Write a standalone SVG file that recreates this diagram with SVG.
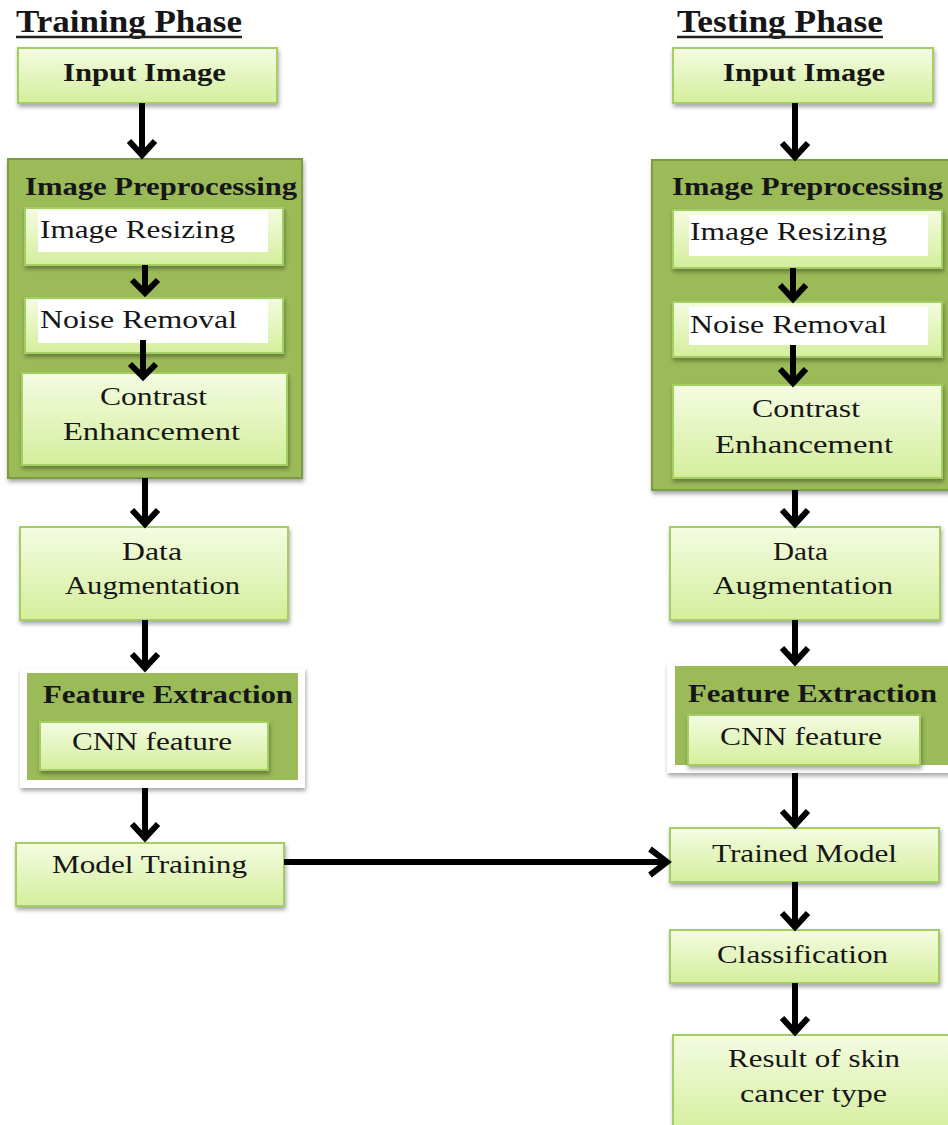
<svg xmlns="http://www.w3.org/2000/svg" width="948" height="1125" viewBox="0 0 948 1125">
<defs>
<linearGradient id="lg" x1="0" y1="0" x2="0" y2="1">
<stop offset="0" stop-color="#f4fce2"/>
<stop offset="1" stop-color="#d4ee9c"/>
</linearGradient>
<filter id="sh" x="-10%" y="-10%" width="120%" height="130%">
<feDropShadow dx="1" dy="3" stdDeviation="2" flood-color="#000" flood-opacity="0.35"/>
</filter>
<style>
.box{fill:url(#lg);stroke:#a3cf62;stroke-width:2;filter:url(#sh)}
.grp{fill:#9bbb59;stroke:#7d9b42;stroke-width:2;filter:url(#sh)}
.wbg{fill:#ffffff;filter:url(#sh)}
.win{fill:#ffffff}
.t{font-family:"Liberation Serif","Times New Roman",serif;font-size:26px;fill:#161616}
.b{font-weight:bold;font-size:26px}
.h{font-family:"Liberation Serif","Times New Roman",serif;font-weight:bold;font-size:31px;fill:#161616}
.ul{stroke:#222;stroke-width:2.5}
.sh{stroke:#000;stroke-width:6;fill:none}
.hd{stroke:#000;stroke-width:6;fill:none;stroke-linejoin:miter;stroke-linecap:butt}
</style>
</defs>

<g id="titles">
<text class="h" x="16" y="32" textLength="226" lengthAdjust="spacingAndGlyphs">Training Phase</text>
<line class="ul" x1="16" y1="37" x2="242" y2="37"/>
<text class="h" x="677" y="32" textLength="206" lengthAdjust="spacingAndGlyphs">Testing Phase</text>
<line class="ul" x1="677" y1="37" x2="883" y2="37"/>
</g>

<!-- Training phase -->
<g id="train-input">
<rect class="box" x="18" y="48" width="259" height="55"/>
<text class="t b" x="63" y="81" textLength="163" lengthAdjust="spacingAndGlyphs">Input Image</text>
</g>
<g id="train-preprocessing">
<rect class="grp" x="8" y="159" width="294" height="319"/>
<text class="t b" x="25" y="195" textLength="272" lengthAdjust="spacingAndGlyphs">Image Preprocessing</text>
</g>
<g id="train-resizing">
<rect class="box" x="25" y="208" width="258" height="57"/>
<rect class="win" x="38" y="211" width="230" height="41"/>
<text class="t" x="40" y="238" textLength="195" lengthAdjust="spacingAndGlyphs">Image Resizing</text>
</g>
<g id="train-noise">
<rect class="box" x="25" y="298" width="258" height="55"/>
<rect class="win" x="38" y="300" width="230" height="43"/>
<text class="t" x="40" y="328" textLength="197" lengthAdjust="spacingAndGlyphs">Noise Removal</text>
</g>
<g id="train-contrast">
<rect class="box" x="22" y="373" width="265" height="92"/>
<text class="t" x="100" y="405" textLength="107" lengthAdjust="spacingAndGlyphs">Contrast</text>
<text class="t" x="63" y="440" textLength="177" lengthAdjust="spacingAndGlyphs">Enhancement</text>
</g>
<g id="train-augmentation">
<rect class="box" x="20" y="527" width="268" height="93"/>
<text class="t" x="122" y="560" textLength="60" lengthAdjust="spacingAndGlyphs">Data</text>
<text class="t" x="65" y="594" textLength="175" lengthAdjust="spacingAndGlyphs">Augmentation</text>
</g>
<g id="train-feature">
<rect class="wbg" x="20" y="668" width="285" height="120"/>
<rect fill="#9bbb59" x="27" y="673" width="271" height="107"/>
<text class="t b" x="43" y="703" textLength="250" lengthAdjust="spacingAndGlyphs">Feature Extraction</text>
</g>
<g id="train-cnn">
<rect class="box" x="40" y="722" width="228" height="48"/>
<text class="t" x="72" y="750" textLength="160" lengthAdjust="spacingAndGlyphs">CNN feature</text>
</g>
<g id="train-model">
<rect class="box" x="16" y="843" width="268" height="63"/>
<text class="t" x="52" y="873" textLength="195" lengthAdjust="spacingAndGlyphs">Model Training</text>
</g>

<!-- Testing phase -->
<g id="test-input">
<rect class="box" x="673" y="48" width="260" height="55"/>
<text class="t b" x="723" y="81" textLength="162" lengthAdjust="spacingAndGlyphs">Input Image</text>
</g>
<g id="test-preprocessing">
<rect class="grp" x="652" y="160" width="300" height="330"/>
<text class="t b" x="672" y="195" textLength="271" lengthAdjust="spacingAndGlyphs">Image Preprocessing</text>
</g>
<g id="test-resizing">
<rect class="box" x="673" y="210" width="269" height="58"/>
<rect class="win" x="689" y="215" width="239" height="41"/>
<text class="t" x="690" y="240" textLength="197" lengthAdjust="spacingAndGlyphs">Image Resizing</text>
</g>
<g id="test-noise">
<rect class="box" x="673" y="302" width="269" height="55"/>
<rect class="win" x="689" y="307" width="239" height="38"/>
<text class="t" x="690" y="333" textLength="197" lengthAdjust="spacingAndGlyphs">Noise Removal</text>
</g>
<g id="test-contrast">
<rect class="box" x="673" y="385" width="269" height="93"/>
<text class="t" x="752" y="417" textLength="108" lengthAdjust="spacingAndGlyphs">Contrast</text>
<text class="t" x="715" y="453" textLength="178" lengthAdjust="spacingAndGlyphs">Enhancement</text>
</g>
<g id="test-augmentation">
<rect class="box" x="670" y="527" width="270" height="93"/>
<text class="t" x="773" y="560" textLength="55" lengthAdjust="spacingAndGlyphs">Data</text>
<text class="t" x="713" y="594" textLength="180" lengthAdjust="spacingAndGlyphs">Augmentation</text>
</g>
<g id="test-feature">
<rect class="wbg" x="667" y="663" width="290" height="110"/>
<rect fill="#9bbb59" x="675" y="666" width="280" height="99"/>
<text class="t b" x="688" y="702" textLength="249" lengthAdjust="spacingAndGlyphs">Feature Extraction</text>
</g>
<g id="test-cnn">
<rect class="box" x="688" y="715" width="232" height="50"/>
<text class="t" x="720" y="745" textLength="162" lengthAdjust="spacingAndGlyphs">CNN feature</text>
</g>
<g id="test-trained">
<rect class="box" x="670" y="828" width="269" height="54"/>
<text class="t" x="712" y="862" textLength="185" lengthAdjust="spacingAndGlyphs">Trained Model</text>
</g>
<g id="test-classification">
<rect class="box" x="670" y="930" width="269" height="53"/>
<text class="t" x="717" y="963" textLength="171" lengthAdjust="spacingAndGlyphs">Classification</text>
</g>
<g id="test-result">
<rect class="box" x="673" y="1035" width="280" height="100"/>
<text class="t" x="728" y="1067" textLength="172" lengthAdjust="spacingAndGlyphs">Result of skin</text>
<text class="t" x="740" y="1102" textLength="147" lengthAdjust="spacingAndGlyphs">cancer type</text>
</g>

<g id="connectors">
<!-- training -->
<path class="sh" d="M142 103 V155"/><path class="hd" d="M129 141 L142 155 L155 141"/>
<path class="sh" d="M145 265 V293"/><path class="hd" d="M132 280 L145 293 L158 280"/>
<path class="sh" d="M143 340 V377"/><path class="hd" d="M130 364 L143 377 L156 364"/>
<path class="sh" d="M145 478 V524"/><path class="hd" d="M132 510 L145 524 L158 510"/>
<path class="sh" d="M145 620 V668"/><path class="hd" d="M132 654 L145 668 L158 654"/>
<path class="sh" d="M145 788 V838"/><path class="hd" d="M132 824 L145 838 L158 824"/>
<path class="sh" d="M284 862 H667"/><path class="hd" d="M650 849 L667 862 L650 875"/>
<!-- testing -->
<path class="sh" d="M795 103 V157"/><path class="hd" d="M782 143 L795 157 L808 143"/>
<path class="sh" d="M793 268 V299"/><path class="hd" d="M780 285 L793 299 L806 285"/>
<path class="sh" d="M793 345 V383"/><path class="hd" d="M780 369 L793 383 L806 369"/>
<path class="sh" d="M795 490 V524"/><path class="hd" d="M782 510 L795 524 L808 510"/>
<path class="sh" d="M795 620 V662"/><path class="hd" d="M782 648 L795 662 L808 648"/>
<path class="sh" d="M795 773 V825"/><path class="hd" d="M782 811 L795 825 L808 811"/>
<path class="sh" d="M795 882 V927"/><path class="hd" d="M782 913 L795 927 L808 913"/>
<path class="sh" d="M795 983 V1032"/><path class="hd" d="M782 1018 L795 1032 L808 1018"/>
</g>
</svg>
